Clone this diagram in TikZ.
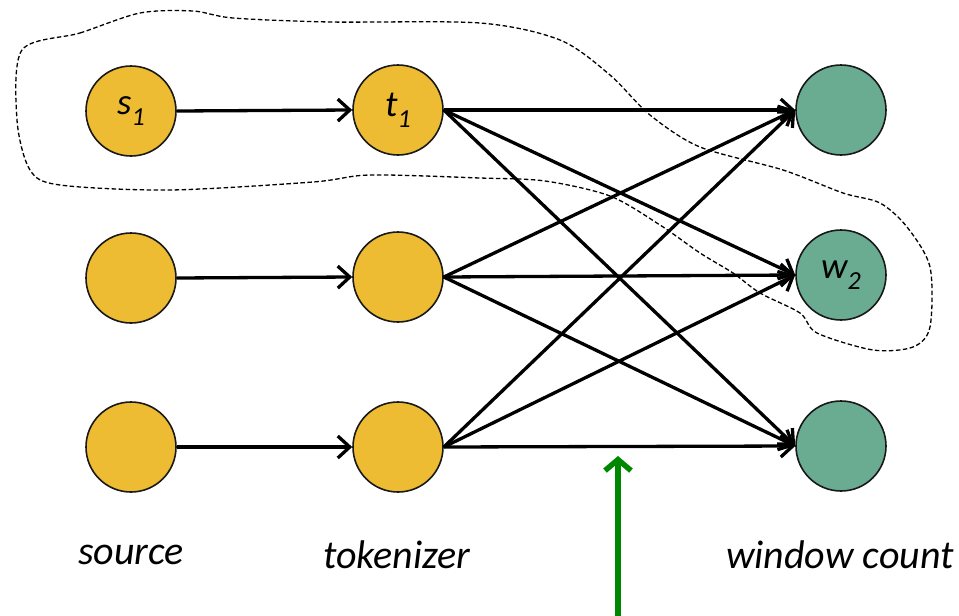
\documentclass[tikz,border=0pt]{standalone}
\usepackage{fontspec}
\setmainfont{Carlito}
\usetikzlibrary{arrows.meta}
\definecolor{gold}{RGB}{238,188,51}
\definecolor{teal}{RGB}{106,172,146}
\definecolor{dgreen}{RGB}{0,135,0}
\begin{document}
\begin{tikzpicture}[x=1pt,y=-1pt,
  vtx/.style={circle,draw=black!90,line width=1.6pt,minimum size=90pt,inner sep=0pt,font=\fontsize{37}{40}\itshape},
  tok/.style={vtx,fill=gold},
  win/.style={vtx,fill=teal},
  edge/.style={line width=3.3pt,-{Straight Barb[length=12pt,width=22pt]}},
  lbl/.style={font=\fontsize{40}{44}\itshape\selectfont}]
\useasboundingbox (0,0) rectangle (959,616);
% dashed region
\draw[line width=1.3pt,dash pattern=on 4.5pt off 2.5pt] plot[smooth cycle,tension=0.5] coordinates {
 (22,50) (80,33) (140,13) (193,11) (233,18) (330,22) (480,23) (560,40) (610,75) (650,115) (700,147)
 (783,170) (843,193) (880,203) (907,227) (930,267) (930,327) (913,347) (873,350) (817,333)
 (800,313) (760,293) (733,273) (700,253) (660,225) (610,196) (545,181) (480,178) (370,175) (313,182)
 (170,190) (60,185) (30,170) (17,120)};
\node[tok] (s1) at (131,111) {s\raisebox{-0.3em}{\fontsize{26}{28}\selectfont 1}};
\node[tok] (s2) at (131,278) {};
\node[tok] (s3) at (131,447) {};
\node[tok] (t1) at (398,110) {t\raisebox{-0.3em}{\fontsize{26}{28}\selectfont 1}};
\node[tok] (t2) at (398,277) {};
\node[tok] (t3) at (398,447) {};
\node[win] (w1) at (841,110) {};
\node[win] (w2) at (841,275) {w\raisebox{-0.3em}{\fontsize{26}{28}\selectfont 2}};
\node[win] (w3) at (841,446) {};
\foreach \i in {1,2,3}{
  \draw[edge] (s\i.east) -- (t\i.west);
  \foreach \j in {1,2,3}{
    \draw[edge] (t\i.east) -- (w\j.west);
  }
}
\node[lbl] (l1) at (131,555) {source};
\node[lbl] (l2) at (397,555) {tokenizer};
\node[lbl] (l3) at (840,555) {window count};
\coordinate (gs) at (618,616);
\coordinate (ge) at (618,456);
\draw[dgreen,line width=5.5pt,-{Straight Barb[length=11pt,width=26pt]}] (gs) -- (ge);
\end{tikzpicture}
\end{document}
